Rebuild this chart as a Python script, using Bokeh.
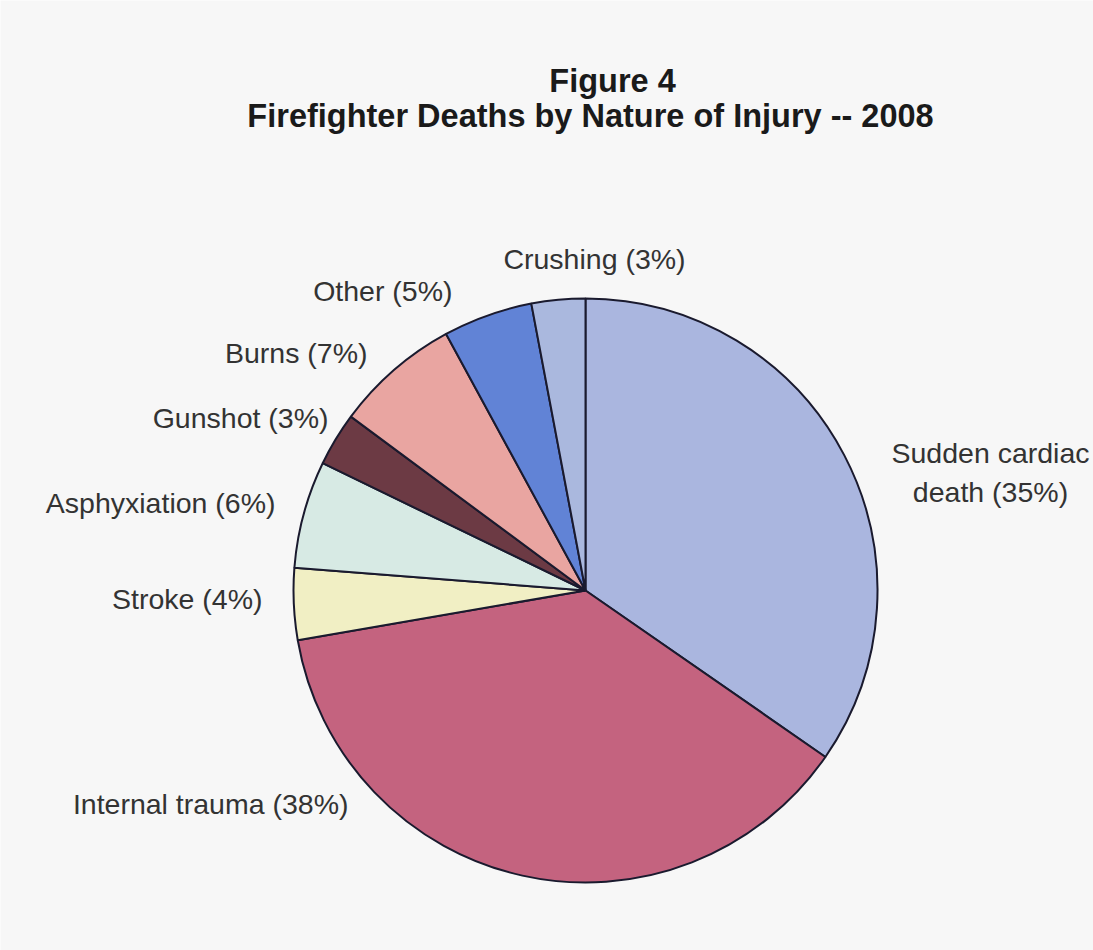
import math
from bokeh.plotting import figure
from bokeh.models import Range1d, ColumnDataSource
from bokeh.core.properties import value
from bokeh.embed import file_html
from bokeh.resources import INLINE

# ---- data ----
categories = ["Sudden cardiac death", "Internal trauma", "Stroke", "Asphyxiation",
              "Gunshot", "Burns", "Other", "Crushing"]
percents = [35, 38, 4, 6, 3, 7, 5, 3]
colors = ["#aab6df", "#c4637f", "#f1efc4", "#d7eae4", "#6c3a44", "#e9a5a1", "#6183d6", "#aab8de"]
label_texts = ["Sudden cardiac\ndeath (35%)", "Internal trauma (38%)", "Stroke (4%)",
               "Asphyxiation (6%)", "Gunshot (3%)", "Burns (7%)", "Other (5%)", "Crushing (3%)"]
title_lines = ["Figure 4", "Firefighter Deaths by Nature of Injury -- 2008"]

# ---- layout (pixel coordinates, y measured from top) ----
W, H = 1093, 950
CX, CY, R = 585, 590, 292
label_px = [990, 348, 262, 275, 328, 367, 452, 594]
label_py = [472, 803, 598, 502, 417, 352, 290, 258]
label_align = ["center", "right", "right", "right", "right", "right", "right", "center"]

total = float(sum(percents))
starts, ends = [], []
cum = 0.0
for v in percents:
    a = cum / total
    cum += v
    b = cum / total
    starts.append(math.pi / 2 - 2 * math.pi * b)
    ends.append(math.pi / 2 - 2 * math.pi * a)

p = figure(width=W, height=H, x_range=Range1d(0, W), y_range=Range1d(0, H),
           output_backend="svg", toolbar_location=None, min_border=0)
p.axis.visible = False
p.grid.visible = False
p.outline_line_color = None
p.background_fill_color = "#f7f7f7"
p.border_fill_color = "#f7f7f7"

src = ColumnDataSource(dict(cat=categories, pct=percents, color=colors,
                            start=starts, end=ends))
p.wedge(x=CX, y=H - CY, radius=R, start_angle="start", end_angle="end",
        direction="anticlock", fill_color="color", line_color="#1a1a2e",
        line_width=2, source=src)

lsrc = ColumnDataSource(dict(x=label_px, y=[H - v for v in label_py],
                             text=label_texts, align=label_align))
p.text(x="x", y="y", text="text", text_align="align", text_baseline="middle",
       text_font=value("Liberation Sans"), text_font_size="28.5px",
       text_color="#333333", text_line_height=1.2, source=lsrc)

tsrc = ColumnDataSource(dict(x=[612, 590], y=[H - 80, H - 115], text=title_lines))
p.text(x="x", y="y", text="text", text_align="center", text_baseline="middle",
       text_font=value("Liberation Sans"), text_font_size="32.5px",
       text_font_style="bold", text_color="#1a1a1a", source=tsrc)

open("out.html", "w").write(file_html(p, INLINE))
